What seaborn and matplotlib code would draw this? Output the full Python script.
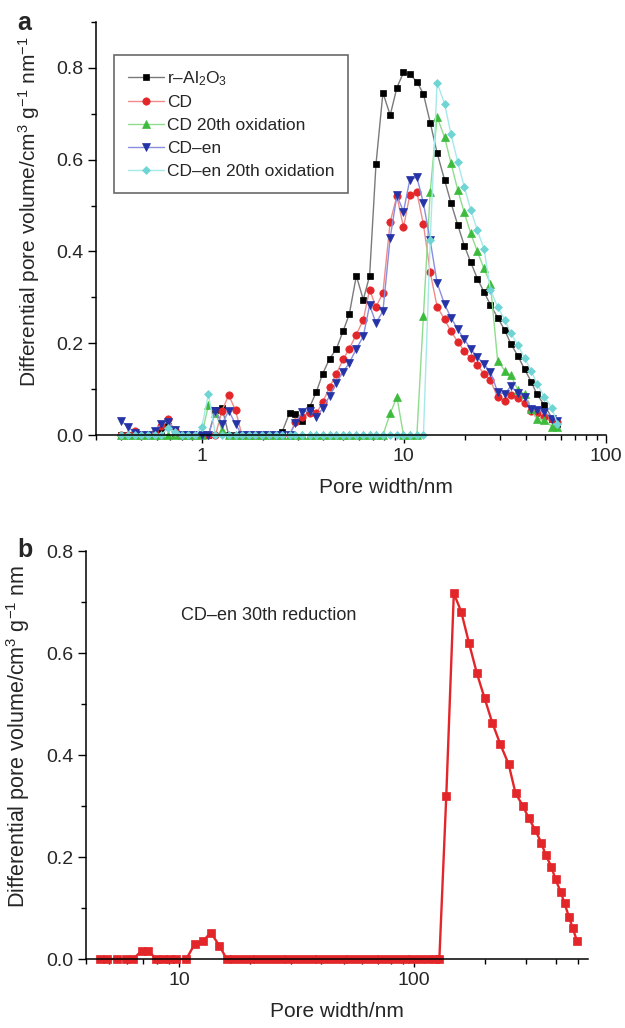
import numpy as np
import matplotlib.pyplot as plt
import matplotlib.ticker as mticker
import seaborn as sns

sns.set_style('ticks')
plt.rcParams['font.family'] = ['Liberation Sans', 'DejaVu Sans']
plt.rcParams['mathtext.fontset'] = 'custom'
plt.rcParams['mathtext.rm'] = 'Liberation Sans'
plt.rcParams['mathtext.it'] = 'Liberation Sans:italic'
plt.rcParams['mathtext.bf'] = 'Liberation Sans:bold'

# panel a: pore widths (nm)
pore_a = [0.40, 0.43, 0.47, 0.50, 0.54, 0.59, 0.63, 0.68, 0.74, 0.80, 0.86,
          0.93, 1.00, 1.08, 1.17, 1.26, 1.36, 1.47, 1.58, 1.71, 1.84, 1.99,
          2.15, 2.32, 2.50, 2.72, 2.91, 3.15, 3.43, 3.69, 3.97, 4.29, 4.64,
          5.01, 5.37, 5.82, 6.30, 6.77, 7.28, 7.88, 8.56, 9.24, 9.96, 10.7,
          11.6, 12.5, 13.5, 14.6, 15.9, 17.1, 18.5, 19.9, 21.4, 23.1, 24.9,
          26.8, 29.1, 31.6, 33.8, 36.7, 39.6, 42.7, 45.5, 49.6, 54.2, 57.4]

al2o3 = [0, 0, 0, 0, 0, 0, 0.01, 0.02, 0.005, 0, 0,
         0, 0, 0, 0.055, 0.06, 0, 0, 0, 0, 0, 0,
         0, 0, 0.007, 0.048, 0.045, 0.03, 0.062, 0.094, 0.134, 0.166, 0.188,
         0.227, 0.263, 0.347, 0.295, 0.347, 0.59, 0.746, 0.697, 0.757, 0.79, 0.786,
         0.77, 0.743, 0.681, 0.615, 0.556, 0.506, 0.457, 0.413, 0.377, 0.341, 0.312,
         0.284, 0.256, 0.228, 0.199, 0.172, 0.143, 0.116, 0.089, 0.065, 0.036, 0.025]

cd = [0, 0, 0.008, 0, 0, 0.005, 0.02, 0.034, 0.01, 0, 0,
      0, 0, 0, 0, 0.053, 0.087, 0.054, 0, 0, 0, 0,
      0, 0, 0, 0, 0.029, 0.04, 0.048, 0.047, 0.072, 0.104, 0.134,
      0.165, 0.188, 0.219, 0.251, 0.317, 0.279, 0.31, 0.465, 0.52, 0.453, 0.523,
      0.529, 0.459, 0.355, 0.28, 0.252, 0.226, 0.203, 0.183, 0.167, 0.152, 0.134,
      0.12, 0.082, 0.075, 0.087, 0.08, 0.069, 0.053, 0.047, 0.04, 0.036, 0.029]

cd_ox = [0, 0, 0, 0, 0, 0, 0, 0, 0, 0, 0,
         0, 0, 0.065, 0.049, 0.01, 0, 0, 0, 0, 0, 0,
         0, 0, 0, 0, 0, 0, 0, 0, 0, 0, 0,
         0, 0, 0, 0, 0, 0, 0, 0.047, 0.083, 0, 0,
         0, 0.26, 0.53, 0.693, 0.649, 0.593, 0.533, 0.485, 0.44, 0.40, 0.363,
         0.33, 0.162, 0.14, 0.13, 0.098, 0.089, 0.056, 0.036, 0.033, 0.018, 0.017]

cd_en = [0.031, 0.018, 0.005, 0, 0, 0.008, 0.025, 0.028, 0.01, 0, 0,
         0, 0, 0, 0.052, 0.024, 0.053, 0.024, 0, 0, 0, 0,
         0, 0, 0, 0, 0.027, 0.051, 0.053, 0.04, 0.058, 0.085, 0.114,
         0.138, 0.157, 0.188, 0.215, 0.283, 0.244, 0.27, 0.43, 0.522, 0.487, 0.556,
         0.562, 0.505, 0.424, 0.332, 0.285, 0.256, 0.23, 0.209, 0.188, 0.17, 0.154,
         0.138, 0.094, 0.089, 0.107, 0.091, 0.083, 0.056, 0.054, 0.051, 0.036, 0.031]

cd_en_ox = [0, 0, 0, 0, 0, 0, 0, 0.015, 0.007, 0, 0,
            0, 0.017, 0.089, 0, 0, 0, 0, 0, 0, 0, 0,
            0, 0, 0, 0, 0, 0, 0, 0, 0, 0, 0,
            0, 0, 0, 0, 0, 0, 0, 0, 0, 0, 0,
            0, 0, 0.424, 0.768, 0.722, 0.656, 0.594, 0.541, 0.491, 0.446, 0.406,
            0.317, 0.279, 0.251, 0.222, 0.196, 0.167, 0.14, 0.112, 0.083, 0.058, 0.025]

# panel b: CD-en 30th reduction
pore_b = [4.6, 4.9, 5.4, 5.9, 6.35, 6.9, 7.36, 7.98, 8.5, 9.1,
          9.7, 10.7, 11.6, 12.6, 13.6, 14.8, 15.9, 17.1, 18.5, 19.9,
          21.5, 23.2, 25.0, 27.0, 29.1, 31.4, 33.9, 36.6, 39.5, 42.6,
          46.0, 49.6, 53.5, 57.7, 62.3, 67.2, 72.5, 78.2, 84.4, 91.1,
          98.3, 106, 114, 123, 128, 137, 147.5, 158.6, 171.3, 185,
          199.6, 215.2, 232.8, 252.5, 270.2, 290.5, 307, 327.6, 348, 363,
          384, 400, 420.5, 437, 456, 474, 493]
vol_b = [0, 0, 0, 0, 0, 0.016, 0.016, 0, 0, 0,
         0, 0, 0.029, 0.035, 0.052, 0.026, 0, 0, 0, 0,
         0, 0, 0, 0, 0, 0, 0, 0, 0, 0,
         0, 0, 0, 0, 0, 0, 0, 0, 0, 0,
         0, 0, 0, 0, 0, 0.32, 0.717, 0.681, 0.619, 0.56,
         0.511, 0.463, 0.421, 0.382, 0.325, 0.3, 0.277, 0.253, 0.228, 0.204,
         0.181, 0.156, 0.132, 0.109, 0.083, 0.06, 0.036]

labels_a = ['r\u2013Al$_2$O$_3$', 'CD', 'CD 20th oxidation', 'CD\u2013en', 'CD\u2013en 20th oxidation']
markers_a = ['s', 'o', '^', 'v', 'D']
msize_a = [4.8, 5.3, 6.0, 6.0, 4.4]
mcolors_a = ['#000000', '#e3262a', '#3dbb3d', '#2433a6', '#6fd4d4']
lcolors_a = ['#7a7a7a', '#f08a8a', '#8fdc8f', '#8a8ee0', '#a6e9e9']

fig = plt.figure(figsize=(6.25, 10.28), dpi=100)
ax1 = fig.add_axes([0.1536, 0.5768, 0.816, 0.4018])
ax2 = fig.add_axes([0.1376, 0.0671, 0.8032, 0.3969])

for yv, lab, mk, ms, mc, lc in zip([al2o3, cd, cd_ox, cd_en, cd_en_ox], labels_a,
                                    markers_a, msize_a, mcolors_a, lcolors_a):
    sns.lineplot(x=pore_a, y=yv, ax=ax1, label=lab, color=lc, lw=1.0,
                 marker=mk, ms=ms, mfc=mc, mec=mc, mew=0.5,
                 estimator=None, sort=False, clip_on=False)

sns.lineplot(x=pore_b, y=vol_b, ax=ax2, color='#e3262a', lw=1.7,
             marker='s', ms=5.2, mfc='#e3262a', mec='#e3262a', mew=0.5,
             estimator=None, sort=False, clip_on=False, legend=False)

for ax in (ax1, ax2):
    ax.set_xscale('log')
    ax.xaxis.set_major_locator(mticker.LogLocator(base=10))
    ax.xaxis.set_minor_locator(mticker.LogLocator(base=10, subs=np.arange(2, 10)))
    ax.xaxis.set_major_formatter(mticker.FuncFormatter(lambda v, _: f'{v:g}'))
    ax.xaxis.set_minor_formatter(mticker.NullFormatter())
    ax.yaxis.set_major_locator(mticker.MultipleLocator(0.2))
    ax.yaxis.set_minor_locator(mticker.MultipleLocator(0.1))
    ax.yaxis.set_major_formatter(mticker.FormatStrFormatter('%.1f'))
    ax.tick_params(which='major', length=6, width=1, labelsize=14, color='black', pad=3)
    ax.tick_params(which='minor', length=3.5, width=1, color='black')
    sns.despine(ax=ax)
    for s in ('left', 'bottom'):
        ax.spines[s].set_linewidth(1.1)
        ax.spines[s].set_color('black')
    ax.set_xlabel('Pore width/nm', fontsize=15)

ax1.set_xlim(0.3, 100)
ax1.set_ylim(0, 0.9)
ax1.set_ylabel('Differential pore volume/cm$^3$ g$^{-1}$ nm$^{-1}$', fontsize=15)
ax1.yaxis.set_label_coords(-0.106, 0.54)
ax1.xaxis.set_label_coords(0.569, -0.105)

ax2.set_xlim(4, 550)
ax2.set_ylim(0, 0.8)
ax2.set_ylabel('Differential pore volume/cm$^3$ g$^{-1}$ nm', fontsize=15.5)
ax2.yaxis.set_label_coords(-0.108, 0.545)
ax2.xaxis.set_label_coords(0.5, -0.105)

leg = ax1.legend(loc='upper left', bbox_to_anchor=(0.035, 0.92), fontsize=12.5,
                 frameon=True, fancybox=False, edgecolor='#444444',
                 handlelength=2.1, handletextpad=0.15, borderpad=0.8,
                 labelspacing=0.44, borderaxespad=0)
leg.get_frame().set_linewidth(1.2)

ax2.text(0.19, 0.843, 'CD\u2013en 30th reduction', transform=ax2.transAxes,
         fontsize=13, va='center', ha='left')

fig.text(0.027, 0.971, 'a', fontsize=18, fontweight='bold', va='baseline')
fig.text(0.027, 0.458, 'b', fontsize=18, fontweight='bold', va='baseline')

fig.savefig('out.png', dpi=100)
